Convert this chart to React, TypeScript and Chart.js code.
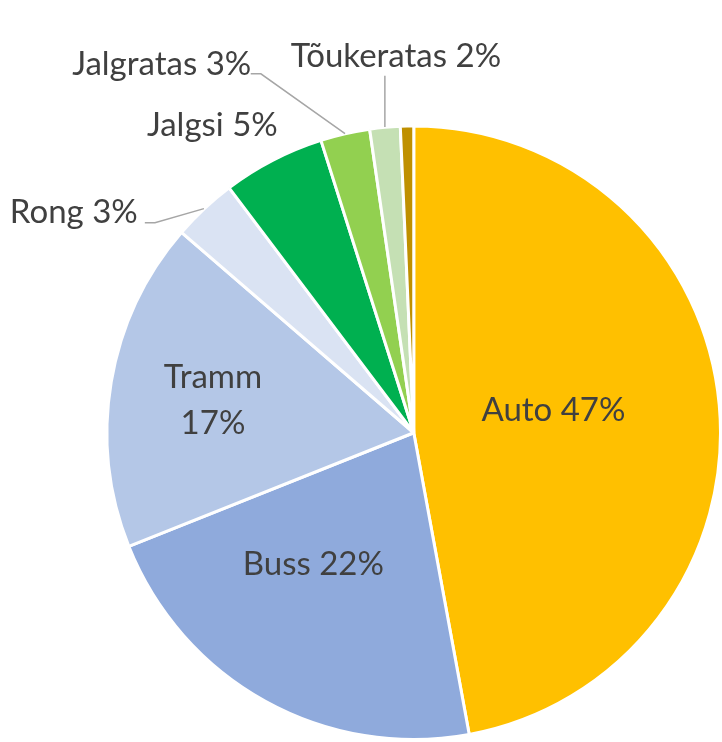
import React, { useEffect, useRef } from "react";
import { Chart, registerables } from "chart.js";

Chart.register(...registerables);

const categories = ["Auto", "Buss", "Tramm", "Rong", "Jalgsi", "Jalgratas", "Tõukeratas", "Muu"];
const shares = [47.2, 21.9, 17.4, 3.4, 5.4, 2.6, 1.6, 0.7];
const colors = ["#FFC000", "#8FAADC", "#B4C7E7", "#DAE3F3", "#00B050", "#92D050", "#C5E0B4", "#BF9000"];

// label layout, relative to pie centre in units of the radius
type LabelLayout = {
  fx: number;
  fy: number;
  align: CanvasTextAlign;
  twoLine?: boolean;
  leader?: number[][];
} | null;

const labelLayout: LabelLayout[] = [
  { fx: 0.455, fy: -0.039, align: "center" },
  { fx: -0.327, fy: 0.4625, align: "center" },
  { fx: -0.654, fy: -0.1466, align: "center", twoLine: true },
  { fx: -0.899, fy: -0.684, align: "right", leader: [[-0.843, -0.684], [-0.876, -0.684]] },
  { fx: -0.656, fy: -0.967, align: "center" },
  { fx: -0.821, fy: -1.166, align: "center", leader: [[-0.498, -1.169], [-0.531, -1.169]] },
  { fx: -0.058, fy: -1.192, align: "center", leader: [[-0.094, -1.163]] },
  null,
];

const FONT = "33px Lato";
const TEXT_COLOR = "#404040";

const labelPlugin = {
  id: "pieLabels",
  afterDatasetsDraw(chart: any) {
    const ctx = chart.ctx as CanvasRenderingContext2D;
    const meta = chart.getDatasetMeta(0);
    const data = chart.data.datasets[0].data as number[];
    const total = data.reduce((a, b) => a + b, 0);
    ctx.save();
    ctx.font = FONT;
    ctx.fillStyle = TEXT_COLOR;
    ctx.textBaseline = "alphabetic";
    meta.data.forEach((arc: any, i: number) => {
      const layout = labelLayout[i];
      if (!layout) return;
      const p = arc.getProps(["x", "y", "outerRadius", "startAngle", "endAngle"], true);
      const R = 307;
      const cx = p.x;
      const cy = p.y;
      const pct = Math.round((data[i] / total) * 100);
      const name = chart.data.labels[i];
      if (layout.leader) {
        const mid = (p.startAngle + p.endAngle) / 2;
        ctx.beginPath();
        ctx.strokeStyle = "#A6A6A6";
        ctx.lineWidth = 1.5;
        ctx.moveTo(cx + Math.cos(mid) * R, cy + Math.sin(mid) * R);
        layout.leader.forEach(([fx, fy]) => ctx.lineTo(cx + fx * R, cy + fy * R));
        ctx.stroke();
      }
      ctx.textAlign = layout.align;
      const x = cx + layout.fx * R;
      const y = cy + layout.fy * R;
      if (layout.twoLine) {
        ctx.fillText(String(name), x, y);
        ctx.fillText(pct + "%", x, y + 46);
      } else {
        ctx.fillText(name + " " + pct + "%", x, y);
      }
    });
    ctx.restore();
  },
};

export default function App() {
  const canvasRef = useRef<HTMLCanvasElement | null>(null);

  useEffect(() => {
    document.body.style.margin = "0";
    const canvas = canvasRef.current;
    if (!canvas) return;
    const chart = new Chart(canvas, {
      type: "pie",
      data: {
        labels: categories,
        datasets: [
          {
            data: shares,
            backgroundColor: colors,
            borderColor: "#FFFFFF",
            borderWidth: 3,
          },
        ],
      },
      options: {
        responsive: false,
        animation: false,
        devicePixelRatio: 1,
        layout: { padding: { left: 105.5, right: -4.5, top: 123.5, bottom: -2.5 } },
        plugins: {
          legend: { display: false },
          tooltip: { enabled: false },
          title: { display: false },
        },
      },
      plugins: [labelPlugin],
    });
    return () => chart.destroy();
  }, []);

  return (
    <div style={{ width: 722, height: 742 }}>
      <canvas ref={canvasRef} width={722} height={742} style={{ display: "block" }} />
    </div>
  );
}
